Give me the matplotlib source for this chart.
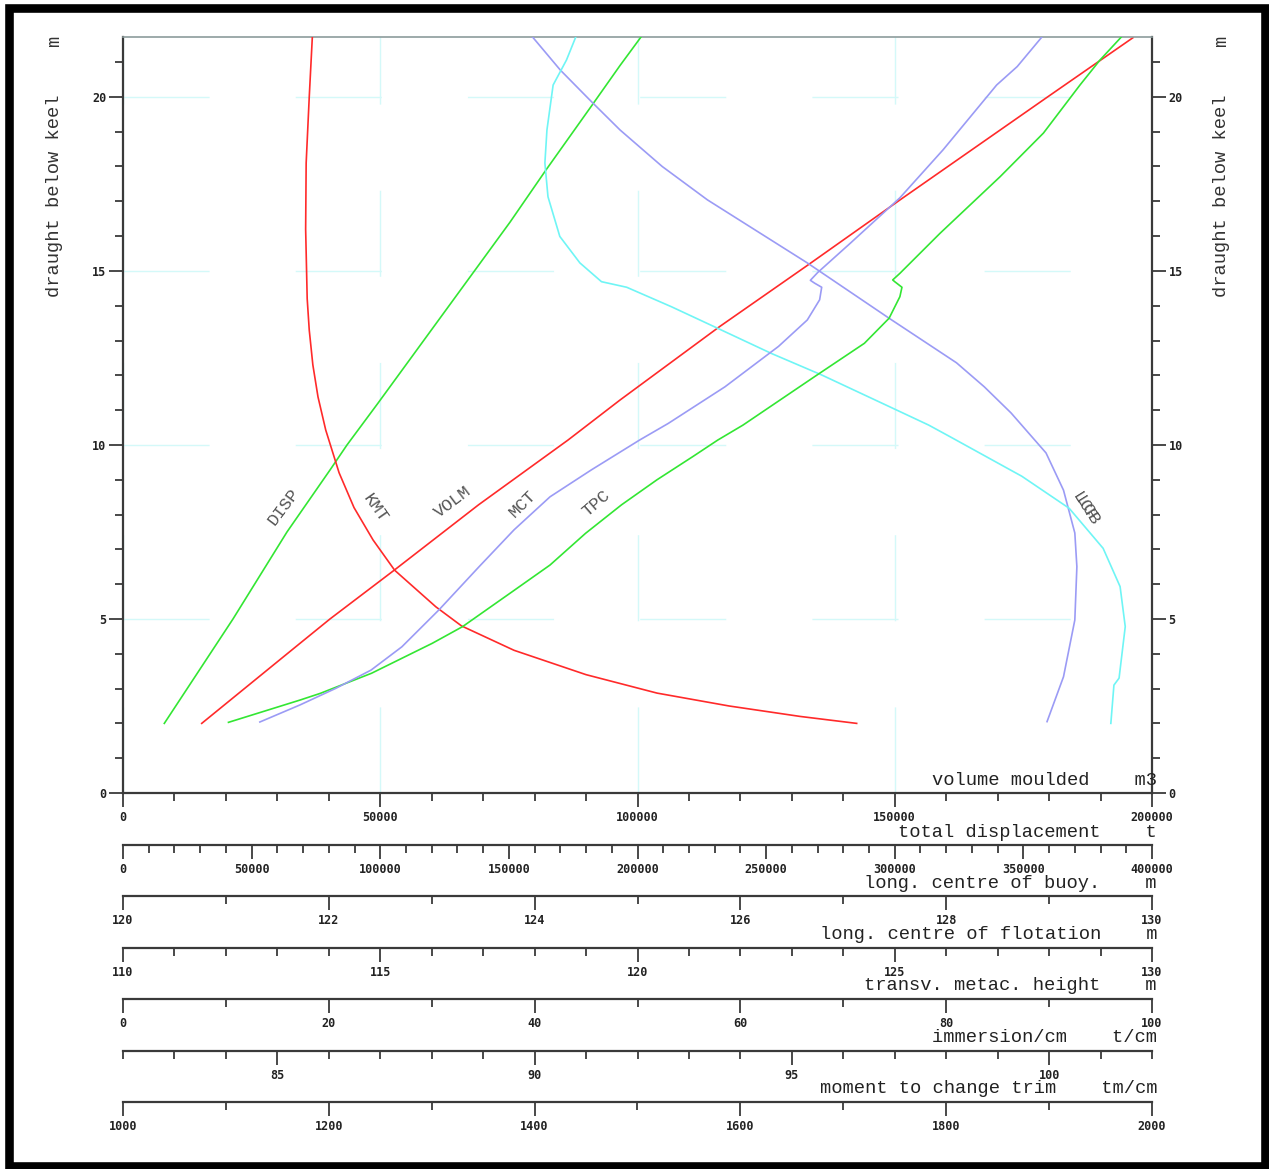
import matplotlib
matplotlib.use("Agg")
import matplotlib.pyplot as plt
from matplotlib.patches import Rectangle
from matplotlib.ticker import MultipleLocator, FormatStrFormatter

# hydrostatic curves (draught below keel in m)
volm_draft = [2.0, 4.3, 5.0, 6.41, 8.28, 10.14, 11.29, 13.4, 15.15, 17.04, 19.98, 21.7]
volm = [15300, 34400, 40230, 52790, 69110, 86490, 96600, 115960, 132940, 151020, 179530, 196300]

disp_draft = [2.0, 5.0, 7.5, 9.28, 10.0, 11.2, 13.8, 16.4, 17.9, 19.8, 20.9, 21.72]
disp = [16060, 42760, 63750, 80470, 87080, 99120, 124780, 150440, 164430, 182700, 193200, 201360]

lcb_draft = [2.05, 3.34, 4.97, 6.5, 7.47, 8.7, 9.77, 10.92, 11.67, 12.36, 13.65, 15.23, 17.04,
             18.0, 19.05, 19.87, 20.77, 21.72]
lcb = [128.98, 129.14, 129.25, 129.27, 129.25, 129.14, 128.97, 128.63, 128.37, 128.10, 127.44,
       126.65, 125.68, 125.24, 124.83, 124.55, 124.25, 123.98]

lcf_draft = [2.0, 3.1, 3.3, 4.78, 5.93, 7.03, 8.18, 9.1, 10.24, 10.57, 10.91, 12.01, 12.63,
             13.35, 13.97, 14.53, 14.69, 15.23, 15.99, 17.13, 18.1, 19.05, 20.34, 21.06, 21.72]
lcf = [129.20, 129.26, 129.36, 129.48, 129.38, 129.05, 128.39, 127.47, 126.07, 125.66,
       125.17, 123.58, 122.60, 121.56, 120.66, 119.79, 119.30, 118.88, 118.49, 118.26,
       118.20, 118.24, 118.36, 118.62, 118.80]

kmt_draft = [2.0, 2.2, 2.5, 2.87, 3.4, 4.1, 4.8, 5.35, 6.4, 7.27, 8.2, 9.2, 10.43, 11.38,
             12.3, 13.3, 14.2, 16.2, 18.1, 20.0, 21.72]
kmt = [71.3, 65.8, 58.9, 51.9, 45.0, 38.0, 32.9, 30.4, 26.4, 24.3, 22.45, 21.0, 19.7, 18.95,
       18.45, 18.1, 17.9, 17.75, 17.8, 18.1, 18.4]

tpc_draft = [2.03, 2.67, 2.86, 3.44, 4.3, 4.78, 5.83, 6.55, 7.46, 8.28, 9.0, 9.67,
             10.14, 10.57, 11.96, 12.92, 13.64, 14.26, 14.53, 14.69, 14.74, 14.93, 16.08,
             17.71, 18.96, 20.34, 21.06, 21.73]
tpc = [84.05, 85.44, 85.83, 86.83, 88.01, 88.60, 89.61, 90.30, 90.99, 91.69, 92.38,
       93.08, 93.56, 94.05, 95.44, 96.41, 96.89, 97.10, 97.14, 97.00, 96.96, 97.10, 97.88,
       99.05, 99.89, 100.60, 100.99, 101.41]

mct_draft = [2.04, 2.53, 3.01, 3.53, 4.2, 5.26, 6.5, 7.56, 8.51, 9.28, 10.14, 10.62, 11.67,
             12.83, 13.59, 14.17, 14.53, 14.65, 14.73, 14.95, 15.8, 17.1, 18.48, 20.34,
             20.87, 21.72]
mct = [1133, 1172, 1207, 1241, 1271, 1307, 1346, 1380, 1415, 1455, 1502, 1530, 1585, 1637,
       1665, 1677, 1679, 1672, 1668, 1675, 1707, 1755, 1797, 1849, 1869, 1893]

# scale titles under the plot
scale_titles = ["volume moulded", "total displacement", "long. centre of buoy.",
                "long. centre of flotation", "transv. metac. height", "immersion/cm",
                "moment to change trim"]
scale_units = ["m3", "t", "m", "m", "m", "t/cm", "tm/cm"]

W, H = 1269, 1169
MONO = "Liberation Mono"
TICKFONT = dict(family="DejaVu Sans Mono", weight="bold", size=8.5)
AX_COL = "#3a3a3a"
RED, GREEN, BLUE, CYAN = "#ff2a2a", "#33e633", "#9b9bf5", "#6ff5f5"

fig = plt.figure(figsize=(W / 100, H / 100), dpi=100)
L, R, T, B = 123, 1152, 37, 793
ax = fig.add_axes([L / W, 1 - B / H, (R - L) / W, (B - T) / H])
ax.set_xlim(0, 200000)
ax.set_ylim(0, 21.72)


def style_ticks(a, axis):
    a.tick_params(axis=axis, which="major", length=10, width=1.3, color=AX_COL, pad=3,
                  direction="out")
    a.tick_params(axis=axis, which="minor", length=5.5, width=1.3, color=AX_COL,
                  direction="out")
    labels = a.get_xticklabels() if axis == "x" else a.get_yticklabels()
    for lab in labels:
        lab.set(**TICKFONT, color="#222222")


# main axes: volume on x, draught on y
ax.xaxis.set_major_locator(MultipleLocator(50000))
ax.xaxis.set_minor_locator(MultipleLocator(10000))
ax.xaxis.set_major_formatter(FormatStrFormatter("%d"))
ax.yaxis.set_major_locator(MultipleLocator(5))
ax.yaxis.set_minor_locator(MultipleLocator(1))
ax.yaxis.set_major_formatter(FormatStrFormatter("%d"))
ax.tick_params(axis="y", which="both", left=True, right=True, labelleft=True, labelright=True)
style_ticks(ax, "x")
style_ticks(ax, "y")
for lab in ax.yaxis.get_ticklabels():
    lab.set(**TICKFONT)
ax.yaxis.set_tick_params(pad=2)
for s in ("left", "right", "bottom"):
    ax.spines[s].set_color(AX_COL)
    ax.spines[s].set_linewidth(1.6)
ax.spines["top"].set_color("#8c9c9c")
ax.spines["top"].set_linewidth(1.2)
ax.grid(True, which="major", color="#d4f9f9", lw=1.0, ls=(0, (62, 62)))
ax.set_axisbelow(True)

ax.plot(volm, volm_draft, color=RED, lw=1.2)


def scale_axis(lo, hi, major, minor, drop_px):
    a = ax.twiny()
    a.set_xlim(lo, hi)
    a.xaxis.set_ticks_position("bottom")
    a.xaxis.set_label_position("bottom")
    a.spines["bottom"].set_position(("outward", drop_px * 0.72))
    for s in ("top", "left", "right"):
        a.spines[s].set_visible(False)
    a.spines["bottom"].set_color(AX_COL)
    a.spines["bottom"].set_linewidth(1.6)
    a.xaxis.set_major_locator(MultipleLocator(major))
    a.xaxis.set_minor_locator(MultipleLocator(minor))
    a.xaxis.set_major_formatter(FormatStrFormatter("%d"))
    style_ticks(a, "x")
    return a


ax_disp = scale_axis(0, 400000, 50000, 10000, 52)
ax_lcb = scale_axis(120, 130, 2, 1, 103)
ax_lcf = scale_axis(110, 130, 5, 1, 155)
ax_kmt = scale_axis(0, 100, 20, 10, 206)
ax_tpc = scale_axis(82, 102, 5, 1, 258)
ax_mct = scale_axis(1000, 2000, 200, 100, 309)

ax_disp.plot(disp, disp_draft, color=GREEN, lw=1.2)
ax_lcb.plot(lcb, lcb_draft, color=BLUE, lw=1.2)
ax_lcf.plot(lcf, lcf_draft, color=CYAN, lw=1.2)
ax_kmt.plot(kmt, kmt_draft, color=RED, lw=1.2)
ax_tpc.plot(tpc, tpc_draft, color=GREEN, lw=1.2)
ax_mct.plot(mct, mct_draft, color=BLUE, lw=1.2)

# scale titles with units, right aligned above each scale line
baselines = [785, 837, 888, 939, 990, 1042, 1093]
for title, unit, yb in zip(scale_titles, scale_units, baselines):
    fig.text(1157 / W, 1 - yb / H, f"{title}    {unit}", ha="right", va="baseline",
             family=MONO, size=13.5, color="#222222")

# vertical axis titles
for xp in (55, 1222):
    fig.text(xp / W, 1 - 196 / H, "draught below keel", rotation=90, ha="center",
             va="center", family=MONO, size=13.5, color="#333333")
    fig.text(xp / W, 1 - 41 / H, "m", rotation=90, ha="center", va="center",
             family=MONO, size=13.5, color="#333333")

# curve names
curve_tags = [("DISP", 284, 507, 53), ("KMT", 375, 508, -55), ("VOLM", 453, 502, 37),
              ("MCT", 523, 504, 45), ("TPC", 596, 503, 41), ("LCF", 1084, 507, -58),
              ("LCB", 1087, 511, -58)]
for name, xp, yp, rot in curve_tags:
    fig.text(xp / W, 1 - yp / H, name, rotation=rot, ha="center", va="center",
             family=MONO, size=12.5, color="#555555", rotation_mode="anchor")

# black picture frame
fig.patches.append(Rectangle((9 / W, 1 - 1165.5 / H), 1255.5 / W, 1158 / H,
                             transform=fig.transFigure, fill=False, ec="black",
                             lw=6.2, zorder=10))

fig.savefig("out.png", dpi=100)
